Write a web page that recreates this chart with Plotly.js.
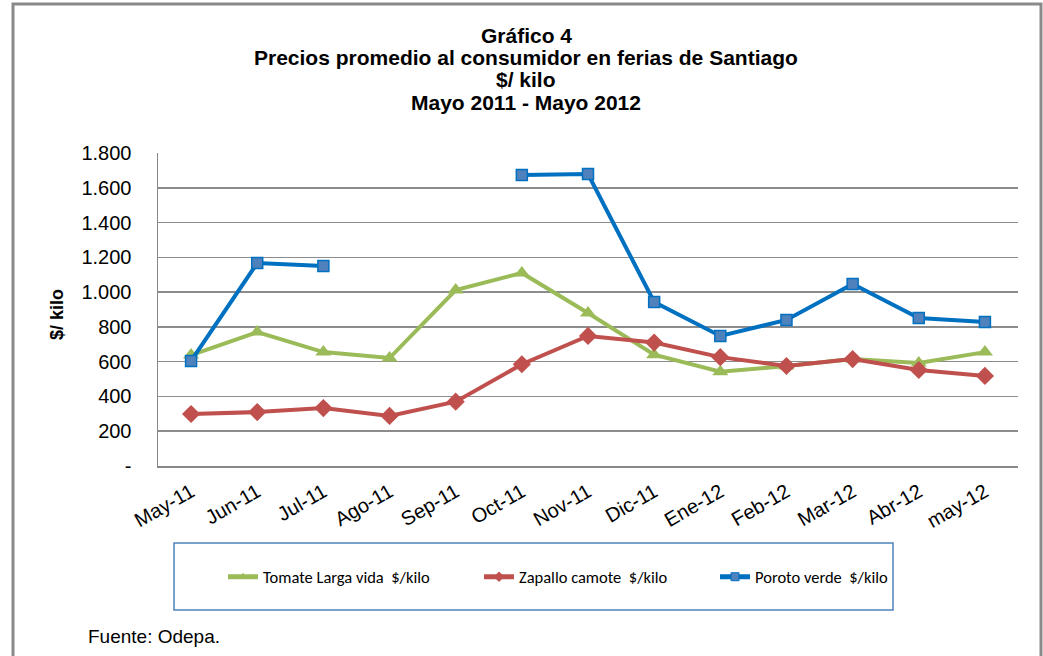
<!DOCTYPE html>
<html><head><meta charset="utf-8">
<script src="https://cdn.plot.ly/plotly-3.0.1.min.js"></script>
<style>html,body{margin:0;padding:0;background:#fff}#chart{width:1043px;height:656px}</style>
</head><body><div id="chart"></div>
<script>
const categories = ["May-11","Jun-11","Jul-11","Ago-11","Sep-11","Oct-11","Nov-11","Dic-11","Ene-12","Feb-12","Mar-12","Abr-12","may-12"];
const tomate = [638, 770, 655, 621, 1012, 1110, 880, 640, 542, 575, 615, 592, 655];
const zapallo = [299, 310, 333, 288, 370, 585, 748, 710, 626, 575, 615, 552, 518];
const poroto = [604, 1167, 1150, null, null, 1673, 1679, 943, 748, 840, 1047, 851, 828];
const yTickVals = [0, 200, 400, 600, 800, 1000, 1200, 1400, 1600, 1800];
const yTickText = ["-", "200", "400", "600", "800", "1.000", "1.200", "1.400", "1.600", "1.800"];
const titleLines = ["Gráfico 4", "Precios promedio al consumidor en ferias de Santiago", "$/ kilo", "Mayo 2011 - Mayo 2012"];
const seriesNames = ["Tomate Larga vida  $/kilo", "Zapallo camote  $/kilo", "Poroto verde  $/kilo"];

const F = "Liberation Sans, Arial, sans-serif";
const LF = "Carlito, Liberation Sans Narrow, Liberation Sans, sans-serif";

const L = 158, R = 1018, T = 153, B = 466, W = 1043, H = 656;
const pw = R - L, ph = B - T;
const px = v => (v - L) / pw;
const py = v => (B - v) / ph;

const styles = [
  {line: {color: "#9BBB59", width: 4}, marker: {symbol: "triangle-up", size: 14, color: "#9BBB59"}},
  {line: {color: "#C0504D", width: 4}, marker: {symbol: "diamond", size: 14, color: "#C0504D"}},
  {line: {color: "#0070C0", width: 4}, marker: {symbol: "square", size: 11, color: "#4F81BD", line: {color: "#0070C0", width: 1.5}}}
];
const legStyles = [
  {line: {color: "#9BBB59", width: 5}, marker: {symbol: "triangle-up", size: 8, color: "#9BBB59"}},
  {line: {color: "#C0504D", width: 5}, marker: {symbol: "diamond", size: 8, color: "#C0504D"}},
  {line: {color: "#0070C0", width: 5}, marker: {symbol: "square", size: 8, color: "#4F81BD", line: {color: "#0070C0", width: 1}}}
];
const dataSets = [tomate, zapallo, poroto];
const legendIds = ["legend", "legend2", "legend3"];

const traces = [];
dataSets.forEach((d, i) => {
  traces.push(Object.assign({x: categories, y: d, name: seriesNames[i], type: "scatter", mode: "lines+markers",
    showlegend: false, connectgaps: false}, styles[i]));
});
dataSets.forEach((d, i) => {
  traces.push(Object.assign({x: [null], y: [null], name: seriesNames[i], legend: legendIds[i], type: "scatter",
    mode: "lines+markers", showlegend: true, hoverinfo: "skip"}, legStyles[i]));
});

function leg(xpix) {
  return {orientation: "h", x: px(xpix), xanchor: "left", y: py(577), yanchor: "middle",
          font: {family: LF, size: 16.5, color: "#000"}, bgcolor: "rgba(0,0,0,0)", borderwidth: 0};
}

const titleY = [35, 57, 80, 103];
const annotations = titleLines.map((t, i) => ({
  text: "<b>" + t + "</b>", xref: "paper", yref: "paper", x: px(526), y: py(titleY[i]),
  xanchor: "center", yanchor: "middle", showarrow: false, font: {family: F, size: 21, color: "#000"}
}));
annotations.push({text: "<b>$/ kilo</b>", xref: "paper", yref: "paper", x: px(57), y: py(315), textangle: -90,
  xanchor: "center", yanchor: "middle", showarrow: false, font: {family: F, size: 18, color: "#000"}});
annotations.push({text: "Fuente: Odepa.", xref: "paper", yref: "paper", x: px(86), y: py(636), xanchor: "left", yanchor: "middle",
  showarrow: false, font: {family: F, size: 19, color: "#000"}});

const layout = {
  width: W, height: H,
  margin: {l: L, r: W - R, t: T, b: H - B, pad: 0},
  paper_bgcolor: "#fff", plot_bgcolor: "#fff",
  font: {family: F, color: "#000"},
  showlegend: true,
  xaxis: {type: "category", categoryarray: categories, categoryorder: "array", range: [-0.5, 12.5], showgrid: false, zeroline: false,
          showline: true, linecolor: "#888", linewidth: 1.5, ticks: "", tickangle: -30, ticklabelstandoff: 5,
          tickfont: {family: F, size: 20, color: "#000"}},
  yaxis: {range: [0, 1800], tickvals: yTickVals, ticktext: yTickText, showgrid: true, gridcolor: "#8c8c8c", gridwidth: 1.5,
          zeroline: false, showline: true, linecolor: "#888", linewidth: 1.5, ticks: "", ticklabelstandoff: 21,
          tickfont: {family: F, size: 20, color: "#000"}},
  legend: leg(223), legend2: leg(479), legend3: leg(715),
  shapes: [
    {type: "rect", xref: "paper", yref: "paper", x0: px(174), x1: px(893), y0: py(543), y1: py(610),
     line: {color: "#4F81BD", width: 1.5}, fillcolor: "rgba(0,0,0,0)"},
    {type: "rect", xref: "paper", yref: "paper", x0: px(13), x1: px(1041), y0: py(4), y1: py(660),
     line: {color: "#8a8a8a", width: 3}, fillcolor: "rgba(0,0,0,0)"}
  ],
  annotations: annotations
};

Plotly.newPlot("chart", traces, layout, {displayModeBar: false, staticPlot: true});
</script></body></html>
